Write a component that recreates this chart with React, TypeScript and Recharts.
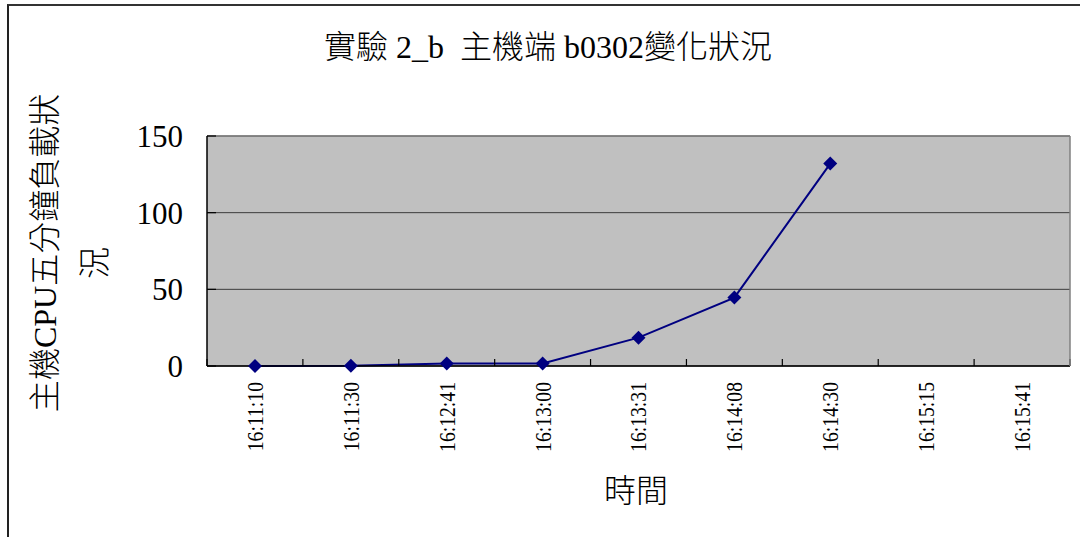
import React from 'react';
import { LineChart, Line, XAxis, YAxis, CartesianGrid } from 'recharts';

// Sample times on the category axis
const categories = [
  '16:11:10', '16:11:30', '16:12:41', '16:13:00', '16:13:31',
  '16:14:08', '16:14:30', '16:15:15', '16:15:41',
];
// Five-minute CPU load average of host b0302 at each sample time
const loadValues: (number | null)[] = [0, 0.1, 1.7, 1.7, 18.5, 44.6, 132, null, null];
const yTicks = [0, 50, 100, 150];
// Excel-style tick marks sit between categories
const boundaryTicks = [0, 1, 2, 3, 4, 5, 6, 7, 8, 9];

const chartTitle = '實驗 2_b  主機端 b0302變化狀況';
const yTitleLines = ['主機CPU五分鐘負載狀', '況'];
const xTitle = '時間';

// pos: centre of each category slot on a 0..n scale, used for the boundary tick axis
const data = categories.map((time, i) => ({ time, pos: i + 0.5, load: loadValues[i] }));

const FONT = "'Liberation Serif', 'Noto Sans CJK TC', serif";
const NAVY = '#000080';

const TimeTick = (props: any) => {
  const { x, y, payload } = props;
  return (
    <g transform={`translate(${x},${y}) rotate(-90) scale(0.82,1)`}>
      <text textAnchor="end" dy="0.33em" fontSize={24} fill="#000" fontFamily={FONT}>
        {payload.value}
      </text>
    </g>
  );
};

// Tick marks only, no label
const NoLabel = () => <g />;

const Diamond = (props: any) => {
  const { cx, cy, value } = props;
  if (cx == null || cy == null || value == null) return null;
  const r = 7;
  return (
    <path
      d={`M${cx},${cy - r}L${cx + r},${cy}L${cx},${cy + r}L${cx - r},${cy}Z`}
      fill={NAVY}
    />
  );
};

export default function App() {
  return (
    <div style={{ position: 'absolute', left: 0, top: 0, width: 1080, height: 537, background: '#fff', overflow: 'hidden' }}>
      <div
        style={{
          position: 'absolute', left: 7, top: 4, width: 1200, height: 700,
          borderLeft: '2px solid #222', borderTop: '2px solid #333', boxSizing: 'border-box',
        }}
      />
      <div style={{ position: 'absolute', left: 0, top: 0 }}>
        <LineChart width={1080} height={537} data={data} margin={{ top: 135, right: 9, bottom: 0, left: 0 }}>
          <CartesianGrid
            xAxisId="labels"
            vertical={false}
            fill="#c0c0c0"
            fillOpacity={1}
            stroke="#3c3c3c"
            strokeWidth={1}
          />
          <XAxis
            xAxisId="axisBase"
            type="number"
            dataKey="pos"
            domain={[0, 9]}
            ticks={boundaryTicks}
            allowDataOverflow
            interval={0}
            height={1}
            tick={<NoLabel />}
            tickSize={-7}
            tickLine={{ stroke: '#000', strokeWidth: 1.2 }}
            axisLine={{ stroke: '#000', strokeWidth: 1.5 }}
          />
          <XAxis
            xAxisId="labels"
            dataKey="time"
            type="category"
            padding={{ left: 48, right: 48 }}
            height={170}
            interval={0}
            axisLine={false}
            tickLine={false}
            tickSize={0}
            tickMargin={15}
            tick={<TimeTick />}
          />
          <XAxis
            xAxisId="top"
            orientation="top"
            type="number"
            domain={[0, 1]}
            height={1}
            tick={<NoLabel />}
            tickLine={false}
            axisLine={{ stroke: '#808080', strokeWidth: 1.5 }}
          />
          <YAxis
            domain={[0, 150]}
            ticks={yTicks}
            width={207}
            interval={0}
            tickSize={-9}
            tickMargin={33}
            tickLine={{ stroke: '#000', strokeWidth: 1.2 }}
            axisLine={{ stroke: '#000', strokeWidth: 1.5 }}
            tick={{ fontSize: 31, fill: '#000', fontFamily: FONT }}
          />
          <YAxis
            yAxisId="right"
            orientation="right"
            domain={[0, 150]}
            width={1}
            tick={<NoLabel />}
            tickLine={false}
            axisLine={{ stroke: '#808080', strokeWidth: 1.5 }}
          />
          <Line
            xAxisId="labels"
            dataKey="load"
            stroke={NAVY}
            strokeWidth={2}
            dot={<Diamond />}
            activeDot={false}
            isAnimationActive={false}
          />
        </LineChart>
      </div>
      <svg
        width={1080}
        height={537}
        style={{ position: 'absolute', left: 0, top: 0, pointerEvents: 'none' }}
        fontFamily={FONT}
      >
        <text x={548} y={58} textAnchor="middle" fontSize={32} fontWeight={300} fill="#000" style={{ whiteSpace: 'pre' }}>
          {chartTitle}
        </text>
        <text transform="translate(44,253) rotate(-90)" textAnchor="middle" dy="0.36em" fontSize={32} fontWeight={300} fill="#000">
          {yTitleLines[0]}
        </text>
        <text transform="translate(94,263) rotate(-90)" textAnchor="middle" dy="0.36em" fontSize={32} fontWeight={300} fill="#000">
          {yTitleLines[1]}
        </text>
        <text x={636} y={502} textAnchor="middle" fontSize={32} fontWeight={300} fill="#000">
          {xTitle}
        </text>
      </svg>
    </div>
  );
}
